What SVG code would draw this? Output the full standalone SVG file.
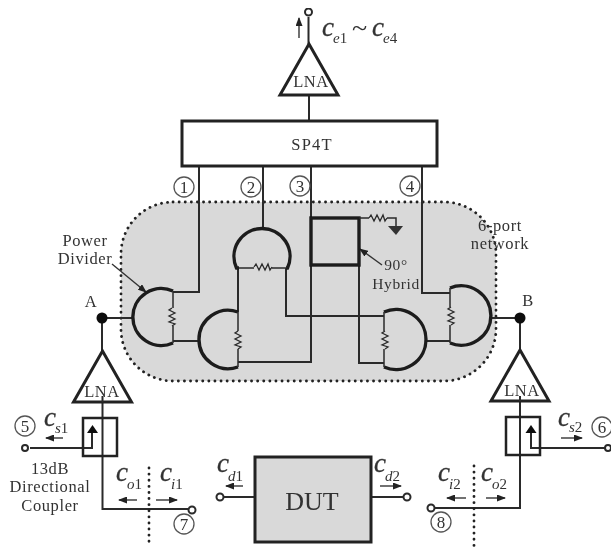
<svg xmlns="http://www.w3.org/2000/svg" width="611" height="547" viewBox="0 0 611 547">
<style>
text{font-family:"Liberation Serif","Times New Roman",serif;fill:#333}
.l{font-size:16.500px;text-anchor:middle;letter-spacing:.6px}
.h{font-size:15.500px;text-anchor:middle;letter-spacing:.6px}
.n{font-size:17px;text-anchor:middle}
.c{font-size:27px;font-style:italic;fill:#333;stroke:#333;stroke-width:.3}
.s{font-size:15px;font-style:italic}
.u{font-style:normal}
.w{fill:none;stroke:#2a2a2a;stroke-width:2}
.t{fill:none;stroke:#1c1c1c;stroke-width:3.400}
.a{fill:none;stroke:#333;stroke-width:1.400}
.r{fill:none;stroke:#2a2a2a;stroke-width:1.300}
.o{fill:#fff;stroke:#2a2a2a;stroke-width:2}
.m{fill:none;stroke:#555;stroke-width:1.300}
.d{fill:none;stroke:#222;stroke-width:2.800;stroke-linecap:round;stroke-dasharray:.1 6}
</style>
<defs>
<filter id="soft" x="0" y="0" width="100%" height="100%"><feGaussianBlur stdDeviation="0.5"/></filter>
<marker id="h" markerWidth="9" markerHeight="7" refX="8" refY="3.500" orient="auto" markerUnits="userSpaceOnUse"><path d="M0 0L9 3.500L0 7z" fill="#222"/></marker>
<path id="rv" d="M0 -9L-3 -7L3 -4L-3 -1L3 2L-3 5L3 7L0 9" class="r"/>
<path id="rh" d="M-9 0L-7 -3L-4 3L-1 -3L2 3L5 -3L7 3L9 0" class="r"/>
<polygon id="lna" points="0,0 29,51 -29,51" fill="#fff" stroke="#222" stroke-width="3"/>
</defs>
<rect width="611" height="547" fill="#fff"/>
<g filter="url(#soft)">
<g id="network-6port">
<rect x="121" y="202" width="375" height="179" rx="52" fill="#d9d9d9"/>
<rect x="121" y="202" width="375" height="179" rx="52" class="d"/>
<text class="l" x="500" y="231">6-port</text>
<text class="l" x="500" y="249">network</text>
</g>
<g id="connectors">
<path class="w" d="M308.500 17V44M309 95V121"/>
<path class="w" d="M199 166V292H173M263 166V229M311 166V362H238M422 166V293H450"/>
<path class="w" d="M173 341H199M238 268V312M286 268V316H384M359 265V363H384M426 341H450"/>
<path class="w" d="M102 318H133M491 318H520M102 318V351M520 318V350"/>
<path class="w" d="M102.500 402V509H188M520 401V508H435"/>
<path class="w" d="M30 448H92V433M608 448H531V433"/>
<path class="w" d="M224 497H255M371 497H403"/>
<path class="a" d="M112 264L146 292" marker-end="url(#h)"/>
<path class="a" d="M382 265L360 249" marker-end="url(#h)"/>
<path class="a" d="M299 38V18" marker-end="url(#h)"/>
<path class="a" d="M63 438H46" marker-end="url(#h)"/>
<path class="a" d="M137 500H119" marker-end="url(#h)"/>
<path class="a" d="M156 500H177" marker-end="url(#h)"/>
<path class="a" d="M243 486H226" marker-end="url(#h)"/>
<path class="a" d="M380 486H401" marker-end="url(#h)"/>
<path class="a" d="M561 438H582" marker-end="url(#h)"/>
<path class="a" d="M466 498H447" marker-end="url(#h)"/>
<path class="a" d="M486 498H505" marker-end="url(#h)"/>
<path class="d" d="M149 468V547M474 466V547"/>
</g>
<g id="lna-top"><use href="#lna" x="309" y="44"/><text class="l" x="311" y="87">LNA</text></g>
<g id="sp4t"><rect x="182" y="121" width="255" height="45" fill="#fff" stroke="#222" stroke-width="3"/><text class="l" x="312" y="150" style="letter-spacing:1.200px">SP4T</text></g>
<g id="port-out"><circle class="o" cx="308.500" cy="12" r="3.500"/></g>
<g id="label-ce"><text class="c" x="322" y="36">c</text><text class="s" x="333" y="43">e<tspan class="u">1</tspan></text><text x="352" y="37" style="font-size:28px">~</text><text class="c" x="372" y="36">c</text><text class="s" x="383" y="43">e<tspan class="u">4</tspan></text></g>
<g id="port-1"><circle class="m" cx="184" cy="187" r="10"/><text class="n" x="184" y="193">1</text></g>
<g id="port-2"><circle class="m" cx="251" cy="187" r="10"/><text class="n" x="251" y="193">2</text></g>
<g id="port-3"><circle class="m" cx="300" cy="186" r="10"/><text class="n" x="300" y="192">3</text></g>
<g id="port-4"><circle class="m" cx="410" cy="186" r="10"/><text class="n" x="410" y="192">4</text></g>
<g id="divider-1"><path class="t" d="M173 291A28.500 28.500 0 1 0 173 343"/><path class="w" style="stroke-width:1.500" d="M173 291V308M173 326V343"/><use href="#rv" x="172" y="317"/></g>
<g id="divider-2"><path class="t" d="M238 312A29.200 29.200 0 1 0 238 367"/><path class="w" style="stroke-width:1.500" d="M238 312V331M238 349V367"/><use href="#rv" x="238" y="340"/></g>
<g id="divider-3"><path class="t" d="M239 268H236.500A28 28 0 1 1 287.500 268H286"/><path class="w" style="stroke-width:1.500" d="M239 268H254M272 268H286"/><use href="#rh" x="263" y="267"/></g>
<g id="divider-4"><path class="t" d="M384 312A30 30 0 1 1 384 367"/><path class="w" style="stroke-width:1.500" d="M384 312V331M384 349V367"/><use href="#rv" x="385" y="340"/></g>
<g id="divider-5"><path class="t" d="M450 288A29.700 29.700 0 1 1 450 343"/><path class="w" style="stroke-width:1.500" d="M450 288V307M450 325V343"/><use href="#rv" x="451" y="316"/></g>
<g id="hybrid"><rect x="311" y="218" width="48" height="47" class="t"/><path class="w" style="stroke-width:1.500" d="M359 218H369M387 218H396V226"/><use href="#rh" x="378" y="218"/><path d="M388 226H403L396 235z" fill="#333"/><text class="h" x="396" y="270">90°</text><text class="h" x="396" y="289">Hybrid</text></g>
<g id="power-divider-label"><text class="l" x="85" y="246">Power</text><text class="l" x="85" y="264">Divider</text></g>
<g id="node-A"><circle cx="102" cy="318" r="5.500" fill="#111"/><text class="l" x="91" y="307">A</text></g>
<g id="node-B"><circle cx="520" cy="318" r="5.500" fill="#111"/><text class="l" x="528" y="306">B</text></g>
<g id="lna-left"><use href="#lna" x="102.500" y="351"/><path class="w" d="M102.500 396V402"/><text class="l" x="102" y="397">LNA</text></g>
<g id="lna-right"><use href="#lna" x="520" y="350"/><path class="w" d="M520 396V401"/><text class="l" x="522" y="396">LNA</text></g>
<g id="coupler-left"><rect x="83" y="418" width="34" height="38" fill="none" stroke="#222" stroke-width="2.500"/><path d="M92.500 425L98 433H87z" fill="#111"/><circle class="o" cx="25" cy="448" r="3"/></g>
<g id="coupler-right"><rect x="506" y="417" width="34" height="38" fill="none" stroke="#222" stroke-width="2.500"/><path d="M531 425L536.500 433H525.500z" fill="#111"/><circle class="o" cx="608" cy="448" r="3"/></g>
<g id="coupler-label"><text class="l" x="50" y="474">13dB</text><text class="l" x="50" y="492">Directional</text><text class="l" x="50" y="511">Coupler</text></g>
<g id="port-5"><circle class="m" cx="25" cy="426" r="10"/><text class="n" x="25" y="432">5</text></g>
<g id="port-6"><circle class="m" cx="602" cy="427" r="10"/><text class="n" x="602" y="433">6</text></g>
<g id="port-7"><circle class="o" cx="192" cy="510" r="3.500"/><circle class="m" cx="184" cy="524" r="10"/><text class="n" x="184" y="530">7</text></g>
<g id="port-8"><circle class="o" cx="431" cy="508" r="3.500"/><circle class="m" cx="441" cy="522" r="10"/><text class="n" x="441" y="528">8</text></g>
<g id="dut"><rect x="255" y="457" width="116" height="85" fill="#d9d9d9" stroke="#222" stroke-width="3"/><text x="312" y="510" text-anchor="middle" style="font-size:26px">DUT</text><circle class="o" cx="220" cy="497" r="3.500"/><circle class="o" cx="407" cy="497" r="3.500"/></g>
<g id="labels-c">
<text class="c" x="44" y="426">c</text><text class="s" x="55" y="433">s<tspan class="u">1</tspan></text>
<text class="c" x="116" y="481">c</text><text class="s" x="127" y="489">o<tspan class="u">1</tspan></text>
<text class="c" x="160" y="481">c</text><text class="s" x="171" y="489">i<tspan class="u">1</tspan></text>
<text class="c" x="217" y="472">c</text><text class="s" x="228" y="481">d<tspan class="u">1</tspan></text>
<text class="c" x="374" y="472">c</text><text class="s" x="385" y="481">d<tspan class="u">2</tspan></text>
<text class="c" x="558" y="426">c</text><text class="s" x="569" y="432">s<tspan class="u">2</tspan></text>
<text class="c" x="438" y="481">c</text><text class="s" x="449" y="489">i<tspan class="u">2</tspan></text>
<text class="c" x="481" y="481">c</text><text class="s" x="492" y="489">o<tspan class="u">2</tspan></text>
</g>
</g>
</svg>
